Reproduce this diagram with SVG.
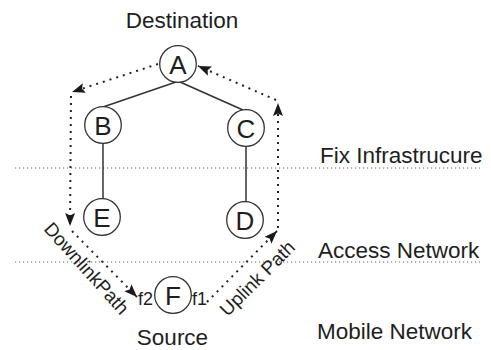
<svg xmlns="http://www.w3.org/2000/svg" width="491" height="350" viewBox="0 0 491 350">
<defs>
<marker id="ah" markerUnits="userSpaceOnUse" markerWidth="14" markerHeight="11" refX="13" refY="5" orient="auto">
<path d="M0,0 L13,5 L0,10 L2.5,5 z" fill="#1a1a1a"/>
</marker>
</defs>
<style>
text{font-family:"Liberation Sans",Arial,sans-serif;fill:#1e1e1e}
.lbl{font-size:22.5px}
.nd circle{fill:#fff;stroke:#333;stroke-width:1.3}
.nd text{font-size:26px;text-anchor:middle}
.edge{stroke:#333;stroke-width:1.5;fill:none}
.sep{stroke:#666;stroke-width:1.2;stroke-dasharray:1.2 2.8;fill:none}
.flow{stroke:#222;stroke-width:2;stroke-dasharray:2 5;fill:none;marker-end:url(#ah)}
.rot{font-size:19px;text-anchor:middle}
</style>
<rect width="491" height="350" fill="#fff"/>
<g id="separators">
<line class="sep" x1="15" y1="168" x2="480" y2="168"/>
<line class="sep" x1="15" y1="262" x2="480" y2="262"/>
</g>
<g id="connectors">
<line class="edge" x1="176" y1="82" x2="103" y2="107"/>
<line class="edge" x1="180" y1="82" x2="243" y2="110"/>
<line class="edge" x1="103" y1="143" x2="103" y2="199"/>
<line class="edge" x1="246" y1="146" x2="246" y2="202"/>
<path class="flow" d="M158,64 L72,92"/>
<path class="flow" d="M71,96 L70,226"/>
<path class="flow" d="M72,231 L137,297"/>
<path class="flow" d="M207,302 L277,231"/>
<path class="flow" d="M278,228 L278,103"/>
<path class="flow" d="M276,100 L198,66"/>
</g>
<g id="node-A" class="nd"><circle cx="178" cy="64" r="18.3"/><text x="178" y="73.5">A</text></g>
<g id="node-B" class="nd"><circle cx="103" cy="125" r="18.3"/><text x="103" y="134.5">B</text></g>
<g id="node-C" class="nd"><circle cx="246" cy="128" r="18.3"/><text x="246" y="137.5">C</text></g>
<g id="node-E" class="nd"><circle cx="102" cy="217" r="18.3"/><text x="102" y="226.5">E</text></g>
<g id="node-D" class="nd"><circle cx="245" cy="220" r="18.3"/><text x="245" y="229.5">D</text></g>
<g id="node-F" class="nd"><circle cx="173" cy="295" r="18.3"/><text x="173" y="304.5">F</text></g>
<g id="labels">
<text class="lbl" x="182" y="28" text-anchor="middle">Destination</text>
<text class="lbl" x="320" y="163">Fix Infrastrucure</text>
<text class="lbl" x="318" y="258">Access Network</text>
<text class="lbl" x="317" y="339">Mobile Network</text>
<text class="lbl" x="172.5" y="345" text-anchor="middle">Source</text>
<text x="138" y="305" font-size="18">f2</text>
<text x="192" y="305" font-size="18">f1</text>
<text class="rot" transform="translate(87,268) rotate(48)" x="0" y="7">DownlinkPath</text>
<text class="rot" transform="translate(257,278) rotate(-45)" x="0" y="7">Uplink Path</text>
</g>
</svg>
